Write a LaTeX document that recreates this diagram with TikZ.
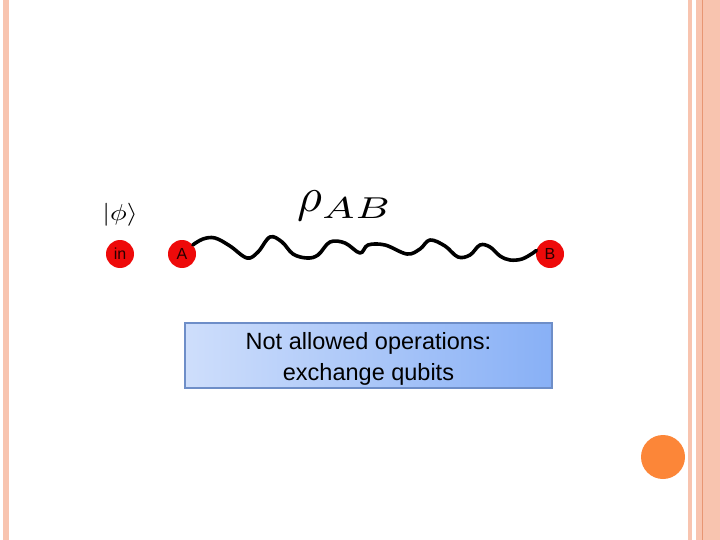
\documentclass[tikz,border=0pt]{standalone}
\usepackage{fontspec}
\setmainfont{Liberation Sans}
\usepackage{graphicx}
\usetikzlibrary{positioning,calc}
\definecolor{stripe}{RGB}{248,196,175}
\definecolor{stripedark}{RGB}{232,150,115}
\definecolor{dotorange}{RGB}{252,134,56}
\definecolor{qubitred}{RGB}{238,10,10}
\definecolor{boxleft}{RGB}{206,222,251}
\definecolor{boxright}{RGB}{136,176,246}
\definecolor{boxline}{RGB}{110,142,200}

\begin{document}
\begin{tikzpicture}[x=1pt, y=-1pt,
		qubit/.style={shape=circle, fill=qubitred, minimum size=28pt, inner sep=0pt, font=\fontsize{16}{18}\selectfont, text=black!85!red},
		wave/.style={line width=3.6pt, line cap=round, line join=round}]
		\useasboundingbox (0, 0) rectangle (720, 540);
		% slide border
		\fill[stripe] (3, 0) rectangle (9, 540);
		\fill[stripe] (688, 0) rectangle (692, 540);
		\fill[stripe] (696, 0) rectangle (720, 540);
		\draw[stripedark, line width=1pt] (702, 0) -- (702, 540);
		\fill[dotorange] (663, 457) circle (22pt);

		\node[qubit] (In) at (120, 254) {in};
		\node[qubit] (A) at (182, 254) {A};
		\node[qubit] (B) at (550, 254) {B};
		\node (Phi) at (120, 215) {\scalebox{2.8}[2.3]{$|\phi\rangle$}};
		\node (Rho) at (345, 206) {\scalebox{4.8}{$\rho_{\scalebox{1.15}[0.9]{$\scriptstyle AB$}}$}};

		\draw[wave] plot[smooth, tension=0.6] coordinates {(A.40) (203, 239) (215, 238) (230, 246) (247, 258) (258, 252) (270, 237) (282, 242) (293, 254) (307, 258) (318, 255) (330, 242) (345, 243) (360, 253) (368, 245) (385, 245) (407, 254) (420, 249) (430, 240) (445, 246) (458, 257) (470, 255) (480, 245) (490, 247) (500, 256) (510, 260) (522, 259) (533, 253) (B.165)};

		\node[draw=boxline, line width=1.2pt, left color=boxleft, right color=boxright, minimum width=367pt, minimum height=65pt] (Rule) at (368.5, 355.5) {};
		\node[align=center, font=\fontsize{23.5}{31}\selectfont] (RuleText) at ($(Rule.center) + (0, 3)$) {Not allowed operations:\\exchange qubits};
	\end{tikzpicture}
\end{document}
